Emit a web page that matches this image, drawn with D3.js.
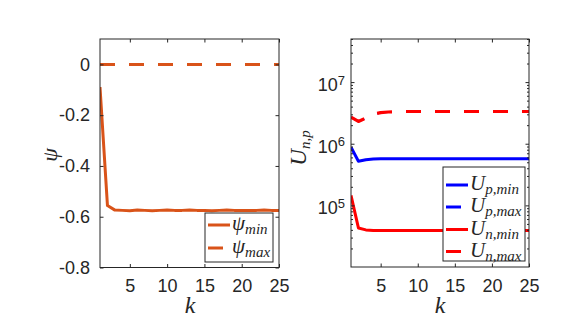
<!DOCTYPE html>
<html><head><meta charset="utf-8">
<script src="https://cdn.jsdelivr.net/npm/d3@7"></script>
<style>
html,body{margin:0;padding:0;background:#fff;}
svg{display:block;}
.math{font-family:"Liberation Serif","Times New Roman","DejaVu Serif",serif;font-style:italic;}
</style></head>
<body>
<svg id="chart" width="574" height="322"></svg>
<script>
// ---------- data ----------
const k = d3.range(1, 26);
const psiMin = [-0.089,-0.556,-0.574,-0.575,-0.576,-0.574,-0.575,-0.576,-0.575,-0.574,-0.575,-0.575,-0.574,-0.575,-0.575,-0.576,-0.575,-0.574,-0.575,-0.575,-0.575,-0.575,-0.574,-0.575,-0.575];
const psiMax = [0,0,0,0,0,0,0,0,0,0,0,0,0,0,0,0,0,0,0,0,0,0,0,0,0];
const UpMin = [8.8e5,5.2e5,5.5e5,5.65e5,5.7e5,5.7e5,5.7e5,5.7e5,5.7e5,5.7e5,5.7e5,5.7e5,5.7e5,5.7e5,5.7e5,5.7e5,5.7e5,5.7e5,5.7e5,5.7e5,5.7e5,5.7e5,5.7e5,5.7e5,5.7e5];
const UnMax = [2.7e6,2.3e6,2.6e6,3.0e6,3.2e6,3.27e6,3.3e6,3.33e6,3.33e6,3.33e6,3.33e6,3.33e6,3.33e6,3.33e6,3.33e6,3.33e6,3.33e6,3.33e6,3.33e6,3.33e6,3.33e6,3.33e6,3.33e6,3.33e6,3.33e6];
const UpMax = [2.7e6,2.3e6,2.6e6,3.0e6,3.2e6,3.27e6,3.3e6,3.33e6,3.33e6,3.33e6,3.33e6,3.33e6,3.33e6,3.33e6,3.33e6,3.33e6,3.33e6,3.33e6,3.33e6,3.33e6,3.33e6,3.33e6,3.33e6,3.33e6,3.33e6];
const UnMin = [1.45e5,4.3e4,4.0e4,3.9e4,3.9e4,3.9e4,3.9e4,3.9e4,3.9e4,3.9e4,3.9e4,3.9e4,3.9e4,3.9e4,3.9e4,3.9e4,3.9e4,3.9e4,3.9e4,3.9e4,3.9e4,3.9e4,3.9e4,3.9e4,3.9e4];
const xTicks = [5,10,15,20,25];
const psiTicks = [-0.8,-0.6,-0.4,-0.2,0];
const uTicks = [1e5,1e6,1e7];
const uTickExp = ["5","6","7"];

const svg = d3.select("#chart");
const axisCol = "#262626";
const orange = "#D95319";
const tickFont = "Liberation Sans, Arial, sans-serif";
const tickSize = 18;

function styleTicks(g, withText){
  g.select(".domain").remove();
  g.selectAll("line").attr("stroke",axisCol).attr("stroke-width",1);
  if(withText) g.selectAll("text").attr("font-family",tickFont).attr("font-size",tickSize).attr("fill",axisCol);
}

// ---------- LEFT PANEL ----------
const L = {x0:100, x1:279, y0:39, y1:267.5};
const xL = d3.scaleLinear().domain([1,25]).range([L.x0, L.x1]);
const yL = d3.scaleLinear().domain([-0.8,0.1]).range([L.y1, L.y0]);

svg.append("clipPath").attr("id","clipL").append("rect")
  .attr("x",L.x0).attr("y",L.y0).attr("width",L.x1-L.x0).attr("height",L.y1-L.y0);

const lineL = d3.line().x((d,i)=>xL(k[i])).y(d=>yL(d));
const gL = svg.append("g").attr("clip-path","url(#clipL)");
gL.append("path").datum(psiMax).attr("d",lineL).attr("fill","none")
  .attr("stroke",orange).attr("stroke-width",3).attr("stroke-dasharray","15,14");
gL.append("path").datum(psiMin).attr("d",lineL).attr("fill","none")
  .attr("stroke",orange).attr("stroke-width",3).attr("stroke-linejoin","round");

function frame(P){
  svg.append("rect").attr("x",P.x0).attr("y",P.y0).attr("width",P.x1-P.x0).attr("height",P.y1-P.y0)
    .attr("fill","none").attr("stroke",axisCol).attr("stroke-width",1);
}
frame(L);

svg.append("g").attr("transform",`translate(0,${L.y1})`)
  .call(d3.axisBottom(xL).tickValues(xTicks).tickSizeInner(-3.5).tickSizeOuter(0).tickPadding(12))
  .call(g=>styleTicks(g,true));
svg.append("g").attr("transform",`translate(0,${L.y0})`)
  .call(d3.axisTop(xL).tickValues(xTicks).tickSizeInner(-3.5).tickSizeOuter(0).tickFormat(""))
  .call(g=>styleTicks(g,false));
svg.append("g").attr("transform",`translate(${L.x0},0)`)
  .call(d3.axisLeft(yL).tickValues(psiTicks).tickSizeInner(-3.5).tickSizeOuter(0).tickPadding(10)
    .tickFormat(d=> d===0 ? "0" : d3.format(".1f")(d).replace("−","-")))
  .call(g=>styleTicks(g,true));
svg.append("g").attr("transform",`translate(${L.x1},0)`)
  .call(d3.axisRight(yL).tickValues(psiTicks).tickSizeInner(-3.5).tickSizeOuter(0).tickFormat(""))
  .call(g=>styleTicks(g,false));

svg.append("text").attr("class","math").attr("x",190).attr("y",313).attr("text-anchor","middle")
  .attr("font-size",24).attr("fill",axisCol).text("k");
svg.append("text").attr("class","math").attr("transform","translate(57,155) rotate(-90)").attr("text-anchor","middle")
  .attr("font-size",22).attr("fill",axisCol).text("ψ");

function legend(x,y,w,h,items,rowY){
  svg.append("rect").attr("x",x).attr("y",y).attr("width",w).attr("height",h)
    .attr("fill","#fff").attr("stroke",axisCol).attr("stroke-width",1);
  items.forEach((it,i)=>{
    const yy = rowY[i];
    svg.append("line").attr("x1",x+3).attr("x2",x+25).attr("y1",yy).attr("y2",yy)
      .attr("stroke",it.color).attr("stroke-width",3)
      .attr("stroke-dasharray", it.dash ? "15,14" : null);
    const t = svg.append("text").attr("class","math").attr("x",x+27).attr("y",yy+5).attr("fill",axisCol);
    t.append("tspan").attr("font-size",21).text(it.main);
    t.append("tspan").attr("font-size",15).attr("dy",4).text(it.sub);
  });
}
legend(205,213,68,49,[
  {color:orange,dash:false,main:"ψ",sub:"min"},
  {color:orange,dash:true,main:"ψ",sub:"max"}
],[225,248]);

// ---------- RIGHT PANEL ----------
const R = {x0:351, x1:529, y0:39, y1:267};
const xR = d3.scaleLinear().domain([1,25]).range([R.x0, R.x1]);
const yR = d3.scaleLog().domain([1e4,5e7]).range([R.y1, R.y0]);

svg.append("clipPath").attr("id","clipR").append("rect")
  .attr("x",R.x0).attr("y",R.y0).attr("width",R.x1-R.x0).attr("height",R.y1-R.y0);
const lineR = d3.line().x((d,i)=>xR(k[i])).y(d=>yR(d));
const gR = svg.append("g").attr("clip-path","url(#clipR)");
const seriesR = [
  {data:UpMax,color:"#0000FF",dash:true,w:2},
  {data:UpMin,color:"#0000FF",dash:false,w:3},
  {data:UnMin,color:"#FF0000",dash:false,w:3},
  {data:UnMax,color:"#FF0000",dash:true,w:3.2}
];
seriesR.forEach(s=>{
  gR.append("path").datum(s.data).attr("d",lineR).attr("fill","none")
    .attr("stroke",s.color).attr("stroke-width",s.w).attr("stroke-linejoin","round")
    .attr("stroke-dasharray", s.dash ? "15,14" : null);
});
frame(R);

svg.append("g").attr("transform",`translate(0,${R.y1})`)
  .call(d3.axisBottom(xR).tickValues(xTicks).tickSizeInner(-3.5).tickSizeOuter(0).tickPadding(12))
  .call(g=>styleTicks(g,true));
svg.append("g").attr("transform",`translate(0,${R.y0})`)
  .call(d3.axisTop(xR).tickValues(xTicks).tickSizeInner(-3.5).tickSizeOuter(0).tickFormat(""))
  .call(g=>styleTicks(g,false));

const minor = [];
[1e4,1e5,1e6,1e7].forEach(dec=>{ for(let m=2;m<=9;m++){ const v=dec*m; if(v<=5e7) minor.push(v);} });
svg.append("g").attr("transform",`translate(${R.x0},0)`)
  .call(d3.axisLeft(yR).tickValues(minor).tickSizeInner(-2).tickSizeOuter(0).tickFormat(""))
  .call(g=>styleTicks(g,false));
svg.append("g").attr("transform",`translate(${R.x1},0)`)
  .call(d3.axisRight(yR).tickValues(minor).tickSizeInner(-2).tickSizeOuter(0).tickFormat(""))
  .call(g=>styleTicks(g,false));
const yAxR = svg.append("g").attr("transform",`translate(${R.x0},0)`)
  .call(d3.axisLeft(yR).tickValues(uTicks).tickSizeInner(-3.5).tickSizeOuter(0).tickFormat(""))
  .call(g=>styleTicks(g,false));
svg.append("g").attr("transform",`translate(${R.x1},0)`)
  .call(d3.axisRight(yR).tickValues(uTicks).tickSizeInner(-3.5).tickSizeOuter(0).tickFormat(""))
  .call(g=>styleTicks(g,false));
yAxR.selectAll(".tick").each(function(d,i){
  const t = d3.select(this).append("text").attr("x",-6).attr("y",8.5)
    .attr("text-anchor","end").attr("font-family",tickFont).attr("fill",axisCol);
  t.append("tspan").attr("font-size",tickSize).text("10");
  t.append("tspan").attr("font-size",13).attr("dy",-6.5).text(uTickExp[i]);
});

svg.append("text").attr("class","math").attr("x",440).attr("y",313).attr("text-anchor","middle")
  .attr("font-size",24).attr("fill",axisCol).text("k");
const ul = svg.append("text").attr("class","math").attr("transform","translate(306,148) rotate(-90)").attr("text-anchor","middle")
  .attr("fill",axisCol);
ul.append("tspan").attr("font-size",23).text("U");
ul.append("tspan").attr("font-size",15).attr("dy",4).text("n,p");

legend(443,167,82,94,[
  {color:"#0000FF",dash:false,main:"U",sub:"p,min"},
  {color:"#0000FF",dash:true,main:"U",sub:"p,max"},
  {color:"#FF0000",dash:false,main:"U",sub:"n,min"},
  {color:"#FF0000",dash:true,main:"U",sub:"n,max"}
],[185,207,229.5,251.5]);
</script>
</body></html>
